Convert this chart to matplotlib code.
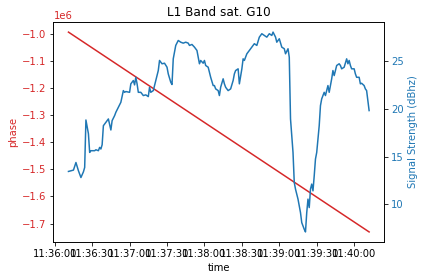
#!usr/bin/env python3

import datetime
import matplotlib
matplotlib.use("Agg")
import matplotlib.pyplot as plt
import matplotlib.dates as mdates

# seconds after 11:36:00
base = datetime.datetime(2021, 1, 1, 11, 36, 0)

phase_sec = [11, 252]
phase_val = [-0.994e6, -1.731e6]

sig_sec = [11, 15, 17, 19, 21, 23, 24, 25, 27, 28, 29, 32, 33, 35, 36, 37, 38, 39, 41, 43,
           45, 46, 48, 49, 51, 53, 55, 56, 57, 60, 61, 63, 64, 65, 66, 67, 69, 71, 73, 75,
           76, 77, 79, 81, 83, 84, 86, 88, 90, 91, 93, 94, 95, 97, 99, 101, 103, 105, 107, 108,
           110, 112, 114, 116, 117, 119, 120, 121, 123, 125, 127, 128, 129, 131, 132, 133, 135, 136, 137, 139,
           141, 143, 144, 145, 147, 148, 150, 151, 152, 154, 155, 156, 158, 160, 162, 164, 166, 168, 170, 172,
           174, 175, 177, 178, 180, 182, 184, 185, 187, 188, 189, 191, 192, 193, 195, 196, 197, 198, 200, 201,
           202, 203, 204, 205, 206, 207, 208, 209, 210, 212, 213, 214, 216, 217, 219, 220, 222, 223, 224, 226,
           228, 229, 230, 232, 234, 235, 236, 237, 238, 240, 241, 242, 244, 245, 246, 248, 249, 250, 252]
sig_val = [13.44, 13.58, 14.38, 13.51, 12.80, 13.40, 13.86, 18.85, 17.41, 15.44, 15.62, 15.62, 15.72, 15.62, 15.97, 15.80, 16.25, 18.25, 18.60, 18.96,
           17.80, 18.78, 19.31, 19.66, 20.18, 20.71, 21.94, 21.76, 21.84, 21.76, 22.65, 23.00, 22.54, 23.34, 22.65, 21.76, 21.76, 21.42, 21.49, 21.31,
           22.29, 21.76, 21.94, 23.00, 24.05, 25.11, 24.76, 24.82, 24.40, 23.70, 22.82, 22.58, 25.28, 26.69, 27.21, 27.03, 26.93, 27.03, 26.93, 26.69,
           26.79, 26.51, 26.16, 24.76, 25.11, 24.82, 25.11, 24.58, 24.40, 23.34, 22.47, 22.47, 22.12, 21.94, 21.42, 22.29, 23.18, 22.65, 22.29, 21.94,
           22.12, 23.00, 23.70, 24.05, 24.23, 22.65, 24.23, 25.28, 25.11, 25.81, 25.98, 26.16, 26.51, 26.87, 26.69, 27.56, 27.92, 27.74, 27.56, 27.92,
           27.74, 28.09, 27.56, 27.03, 27.39, 26.51, 26.34, 25.81, 26.34, 25.45, 18.96, 15.44, 12.28, 11.58, 10.53, 9.82, 9.11, 8.06, 7.36, 7.08,
           9.11, 10.53, 9.64, 11.58, 12.11, 11.40, 12.98, 14.74, 15.44, 18.25, 20.36, 21.07, 21.76, 21.42, 22.47, 21.76, 23.18, 24.05, 23.52, 24.58,
           24.76, 24.58, 24.23, 24.40, 25.28, 24.76, 25.11, 24.58, 24.23, 24.23, 23.70, 23.34, 23.34, 22.65, 22.71, 22.47, 22.12, 21.94, 19.84]


def main():
	phase_t = [base + datetime.timedelta(seconds=s) for s in phase_sec]
	sig_t = [base + datetime.timedelta(seconds=s) for s in sig_sec]

	dpi = 72
	fig, ax1 = plt.subplots(figsize=(424 / dpi, 280 / dpi), dpi=dpi)
	fig.subplots_adjust(left=0.126, right=0.906, top=0.921, bottom=0.136)

	# phase on the left axis
	ax1.plot(phase_t, phase_val, color="tab:red")
	ax1.set_xlabel("time")
	ax1.set_ylabel("phase", color="tab:red")
	ax1.tick_params(axis="y", labelcolor="tab:red")
	ax1.yaxis.get_offset_text().set_color("tab:red")

	# signal strength on the right axis
	ax2 = ax1.twinx()
	ax2.plot(sig_t, sig_val, color="tab:blue")
	ax2.set_ylabel("Signal Strength (dBhz)", color="tab:blue")
	ax2.tick_params(axis="y", labelcolor="tab:blue")

	ax1.xaxis.set_major_locator(mdates.SecondLocator(bysecond=[0, 30]))
	ax1.xaxis.set_major_formatter(mdates.DateFormatter("%H:%M:%S"))

	plt.title("L1 Band sat. G10")
	fig.savefig("out.png", dpi=dpi)


if __name__ == "__main__":
	main()
